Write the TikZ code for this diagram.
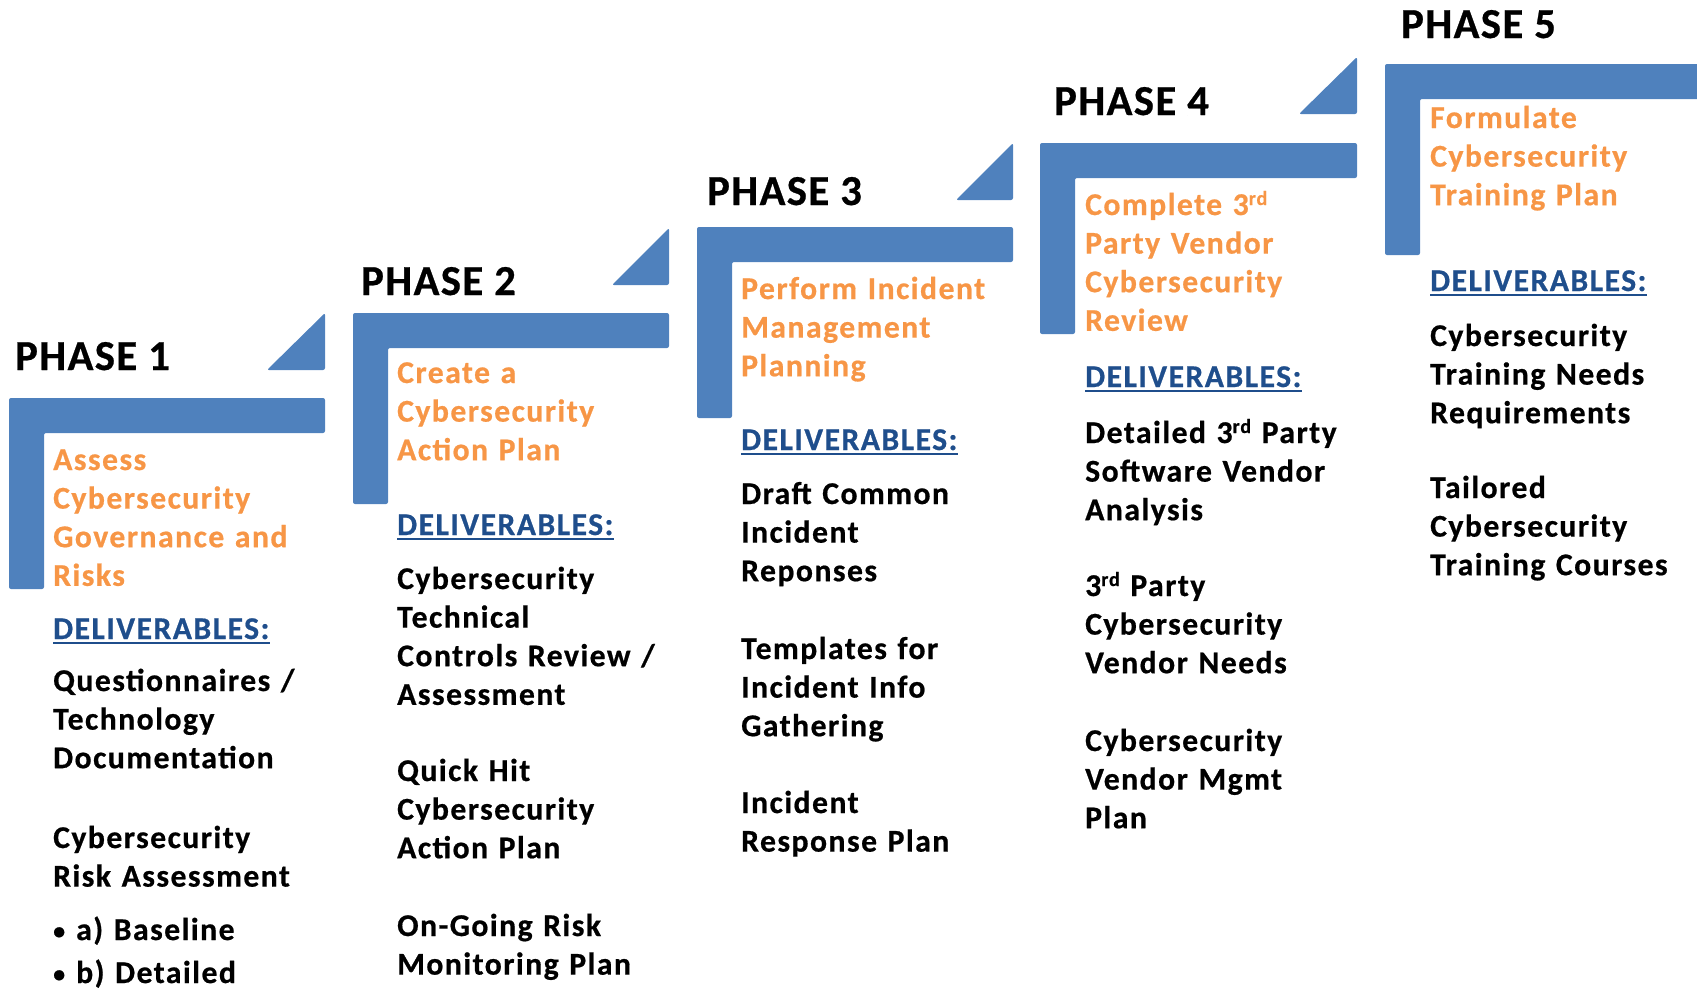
\documentclass[tikz,border=0pt]{standalone}
\usepackage{fontspec}
\setmainfont{Carlito}[LetterSpace=3.2, BoldFeatures={FakeBold=0.6}]
\definecolor{stepblue}{HTML}{4F81BD}
\definecolor{goalorange}{HTML}{F79646}
\definecolor{delivblue}{HTML}{1F4E8C}
\newcommand\bodysize{\fontsize{31.7}{38.6}\selectfont\bfseries\addfontfeatures{LetterSpace=4.6}}
\newcommand\ord[1]{\raisebox{10pt}{\fontsize{20}{20}\selectfont #1}}
\newcommand\listdot{\makebox[23pt][l]{\fontsize{24}{24}\selectfont\raisebox{1pt}{\textbullet}}}
% one staircase bracket: left x, top y, right x
\newcommand\stairbracket[3]{%
  \fill[stair] (#1,#2) -- (#3,#2) -- (#3,#2+35) -- (#1+35,#2+35)
    -- (#1+35,#2+191) -- (#1,#2+191) -- cycle;}
\tikzset{
  stair/.style={fill=stepblue, rounded corners=2pt},
  phasetitle/.style={anchor=base west, inner sep=0pt,
    font=\fontsize{42.7}{50}\selectfont\bfseries},
  goal/.style={anchor=base west, inner sep=0pt, text width=330pt,
    align=left, font=\bodysize, text=goalorange},
  delivhead/.style={anchor=base west, inner sep=0pt, font=\bodysize,
    text=delivblue},
  delivrule/.style={draw=delivblue, line width=2.4pt},
  itemtext/.style={anchor=base west, inner sep=0pt, text width=330pt,
    align=left, font=\bodysize},
}
\begin{document}
\begin{tikzpicture}[x=1pt,y=-1pt]
\useasboundingbox (0,0) rectangle (1697,989);
\clip (0,0) rectangle (1697,989);

% brackets and step triangles
\stairbracket{9}{398}{325}
\stairbracket{353}{313}{669}
\stairbracket{697}{227}{1013}
\stairbracket{1040}{143}{1357}
\stairbracket{1385}{64}{1720}
\fill[stair] (267,370) -- (325,370) -- (325,313) -- cycle;
\fill[stair] (612,285) -- (669,285) -- (669,228) -- cycle;
\fill[stair] (956,200) -- (1013,200) -- (1013,143) -- cycle;
\fill[stair] (1299,114) -- (1357,114) -- (1357,57) -- cycle;

% phase 1
\node[phasetitle] (p1) at (15,370) {PHASE 1};
\node[goal] (g1) at (53,470) {Assess\\Cybersecurity\\Governance and\\Risks};
\node[delivhead] (d1) at (53,639) {DELIVERABLES:};
\draw[delivrule] ([yshift=-4pt]d1.base west) -- ([yshift=-4pt]d1.base east);
\node[itemtext] (a1) at (53,691) {Questionnaires /\\Technology\\Documentation};
\node[itemtext] (b1) at (53,848) {Cybersecurity\\Risk Assessment};
\node[itemtext] (c1) at (53,940) {\listdot a) Baseline};
\node[itemtext] (e1) at (53,983) {\listdot b) Detailed};

% phase 2
\node[phasetitle] (p2) at (361,295) {PHASE 2};
\node[goal] (g2) at (397,383) {Create a\\Cybersecurity\\Action Plan};
\node[delivhead] (d2) at (397,535) {DELIVERABLES:};
\draw[delivrule] ([yshift=-4pt]d2.base west) -- ([yshift=-4pt]d2.base east);
\node[itemtext] (a2) at (397,589) {Cybersecurity\\Technical\\Controls Review /\\Assessment};
\node[itemtext] (b2) at (397,781) {Quick Hit\\Cybersecurity\\Action Plan};
\node[itemtext] (c2) at (397,936) {On-Going Risk\\Monitoring Plan};

% phase 3
\node[phasetitle] (p3) at (707,205) {PHASE 3};
\node[goal] (g3) at (741,299) {Perform Incident\\Management\\Planning};
\node[delivhead] (d3) at (741,450) {DELIVERABLES:};
\draw[delivrule] ([yshift=-4pt]d3.base west) -- ([yshift=-4pt]d3.base east);
\node[itemtext] (a3) at (741,504) {Draft Common\\Incident\\Reponses};
\node[itemtext] (b3) at (741,659) {Templates for\\Incident Info\\Gathering};
\node[itemtext] (c3) at (741,813) {Incident\\Response Plan};

% phase 4
\node[phasetitle] (p4) at (1054,115) {PHASE 4};
\node[goal] (g4) at (1085,215) {Complete 3\ord{rd}\\Party Vendor\\Cybersecurity\\Review};
\node[delivhead] (d4) at (1085,387) {DELIVERABLES:};
\draw[delivrule] ([yshift=-4pt]d4.base west) -- ([yshift=-4pt]d4.base east);
\node[itemtext] (a4) at (1085,443) {Detailed 3\ord{rd} Party\\Software Vendor\\Analysis};
\node[itemtext] (b4) at (1085,596) {3\ord{rd} Party\\Cybersecurity\\Vendor Needs};
\node[itemtext] (c4) at (1085,751) {Cybersecurity\\Vendor Mgmt\\Plan};

% phase 5
\node[phasetitle] (p5) at (1401,38) {PHASE 5};
\node[goal] (g5) at (1430,128) {Formulate\\Cybersecurity\\Training Plan};
\node[delivhead] (d5) at (1430,291) {DELIVERABLES:};
\draw[delivrule] ([yshift=-4pt]d5.base west) -- ([yshift=-4pt]d5.base east);
\node[itemtext] (a5) at (1430,346) {Cybersecurity\\Training Needs\\Requirements};
\node[itemtext] (b5) at (1430,498) {Tailored\\Cybersecurity\\Training Courses};
\end{tikzpicture}
\end{document}
